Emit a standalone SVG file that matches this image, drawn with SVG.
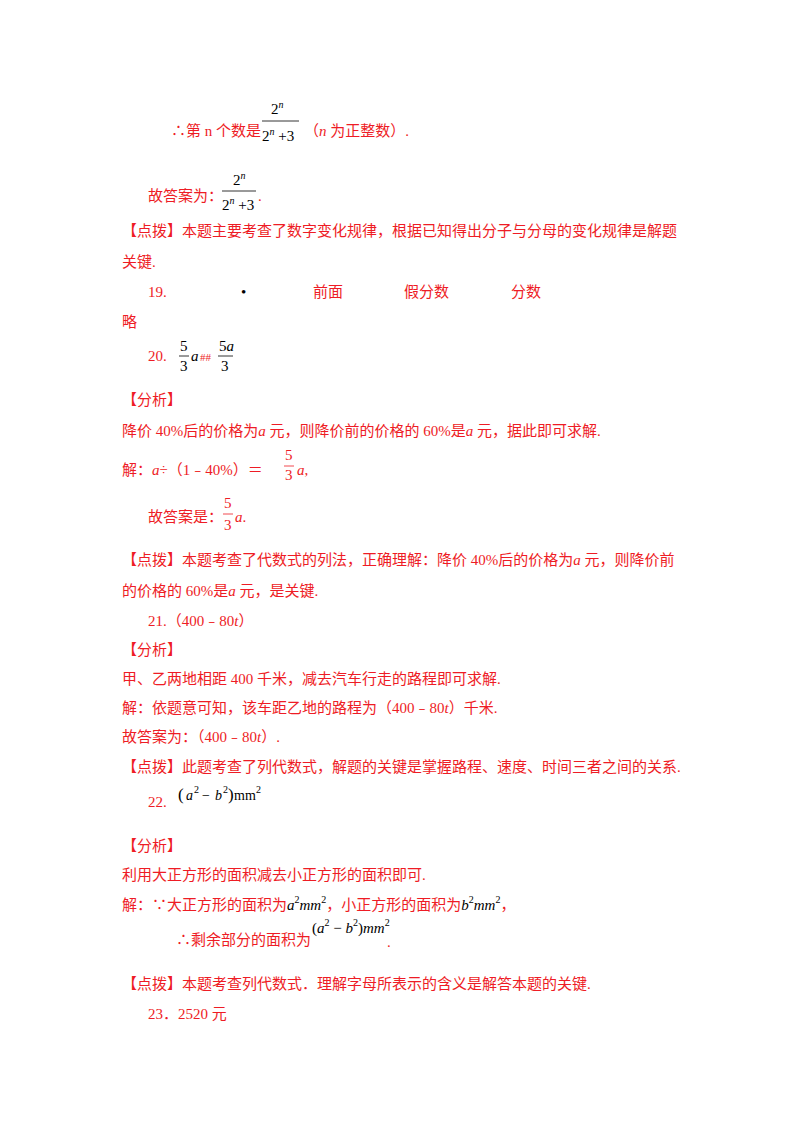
<svg xmlns="http://www.w3.org/2000/svg" width="800" height="1132" viewBox="0 0 800 1132">
<style>
text{font-family:"Liberation Serif","Noto Sans CJK SC",serif;font-size:15px;fill:#ee1c25}
.m{fill:#000;font-family:"Liberation Serif",serif}
.i{font-style:italic}
.s{font-size:10px}
line{stroke:#000;stroke-width:0.8}
</style>
<rect width="800" height="1132" fill="#fff"/>
<g id="line1">
<text x="171" y="136">∴第 n 个数是</text>
<text class="m" x="271" y="114">2<tspan class="s i" dy="-6">n</tspan></text>
<line x1="262" y1="121" x2="299" y2="121"/>
<text class="m" x="262" y="141">2<tspan class="s i" dy="-6">n</tspan><tspan dy="6"> +3</tspan></text>
<text x="304" y="136">（<tspan class="i">n</tspan> 为正整数）.</text>
</g>
<g id="ans">
<text x="148" y="201">故答案为：</text>
<text class="m" x="233" y="185">2<tspan class="s i" dy="-6">n</tspan></text>
<line x1="222" y1="191" x2="256" y2="191"/>
<text class="m" x="222" y="210">2<tspan class="s i" dy="-6">n</tspan><tspan dy="6"> +3</tspan></text>
<text x="258" y="201">.</text>
</g>
<text x="122" y="236">【点拨】本题主要考查了数字变化规律，根据已知得出分子与分母的变化规律是解题</text>
<text x="122" y="267">关键.</text>
<text x="148" y="297">19.</text>
<text x="241" y="297" style="fill:#000">•</text>
<text x="313" y="297">前面</text>
<text x="404" y="297">假分数</text>
<text x="511" y="297">分数</text>
<text x="122" y="327">略</text>
<g id="q20">
<text x="148" y="361">20.</text>
<text class="m" x="180" y="351">5</text>
<line x1="179" y1="356" x2="189" y2="356"/>
<text class="m" x="180" y="371">3</text>
<text class="m i" x="191" y="361">a</text>
<text x="200" y="361" style="font-size:11px">##</text>
<text class="m" x="219" y="351">5<tspan class="i">a</tspan></text>
<line x1="218" y1="356" x2="233" y2="356"/>
<text class="m" x="221" y="371">3</text>
</g>
<text x="122" y="405">【分析】</text>
<text x="122" y="436">降价 40%后的价格为<tspan class="i">a</tspan> 元，则降价前的价格的 60%是<tspan class="i">a</tspan> 元，据此即可求解.</text>
<text x="122" y="475">解：<tspan class="i">a</tspan>÷（1﹣40%）＝</text>
<text x="285" y="460">5</text>
<line x1="284" y1="466" x2="294" y2="466" style="stroke:#ee1c25"/>
<text x="285" y="480">3</text>
<text x="297" y="475"><tspan class="i">a</tspan>,</text>
<text x="148" y="522">故答案是：</text>
<text x="224" y="508">5</text>
<line x1="223" y1="514" x2="233" y2="514" style="stroke:#ee1c25"/>
<text x="224" y="530">3</text>
<text x="235" y="522"><tspan class="i">a</tspan>.</text>
<text x="122" y="565">【点拨】本题考查了代数式的列法，正确理解：降价 40%后的价格为<tspan class="i">a</tspan> 元，则降价前</text>
<text x="122" y="596">的价格的 60%是<tspan class="i">a</tspan> 元，是关键.</text>
<text x="148" y="626">21.（400﹣80<tspan class="i">t</tspan>）</text>
<text x="122" y="655">【分析】</text>
<text x="122" y="684">甲、乙两地相距 400 千米，减去汽车行走的路程即可求解.</text>
<text x="122" y="713">解：依题意可知，该车距乙地的路程为（400﹣80<tspan class="i">t</tspan>）千米.</text>
<text x="122" y="742">故答案为：（400﹣80<tspan class="i">t</tspan>）.</text>
<text x="122" y="772">【点拨】此题考查了列代数式，解题的关键是掌握路程、速度、时间三者之间的关系.</text>
<g id="q22">
<text x="148" y="807">22.</text>
<text class="m" x="178" y="800" style="font-size:17px">(</text>
<text class="m i" x="186" y="800" style="font-size:14px">a</text>
<text class="m s" x="194" y="793">2</text>
<text class="m" x="202" y="800" style="font-size:14px">−</text>
<text class="m i" x="215" y="800" style="font-size:14px">b</text>
<text class="m s" x="223" y="793">2</text>
<text class="m" x="228" y="800" style="font-size:17px">)</text>
<text class="m" x="234" y="800" style="font-size:14px">mm</text>
<text class="m s" x="256" y="793">2</text>
</g>
<text x="122" y="851">【分析】</text>
<text x="122" y="880">利用大正方形的面积减去小正方形的面积即可.</text>
<text x="122" y="910">解：∵大正方形的面积为<tspan class="m i">a</tspan><tspan class="m s" dy="-7">2</tspan><tspan class="m i" dy="7">mm</tspan><tspan class="m s" dy="-7">2</tspan><tspan dy="7">，小正方形的面积为</tspan><tspan class="m i">b</tspan><tspan class="m s" dy="-7">2</tspan><tspan class="m i" dy="7">mm</tspan><tspan class="m s" dy="-7">2</tspan><tspan dy="7">，</tspan></text>
<text x="176" y="945">∴剩余部分的面积为</text>
<text class="m" x="312" y="933">(<tspan class="i">a</tspan><tspan class="s" dy="-7">2</tspan><tspan dy="7"> − </tspan><tspan class="i">b</tspan><tspan class="s" dy="-7">2</tspan><tspan dy="7">)</tspan><tspan class="i">mm</tspan><tspan class="s" dy="-7">2</tspan></text>
<text x="387" y="947">.</text>
<text x="122" y="989">【点拨】本题考查列代数式．理解字母所表示的含义是解答本题的关键.</text>
<text x="148" y="1019">23．2520 元</text>
</svg>
